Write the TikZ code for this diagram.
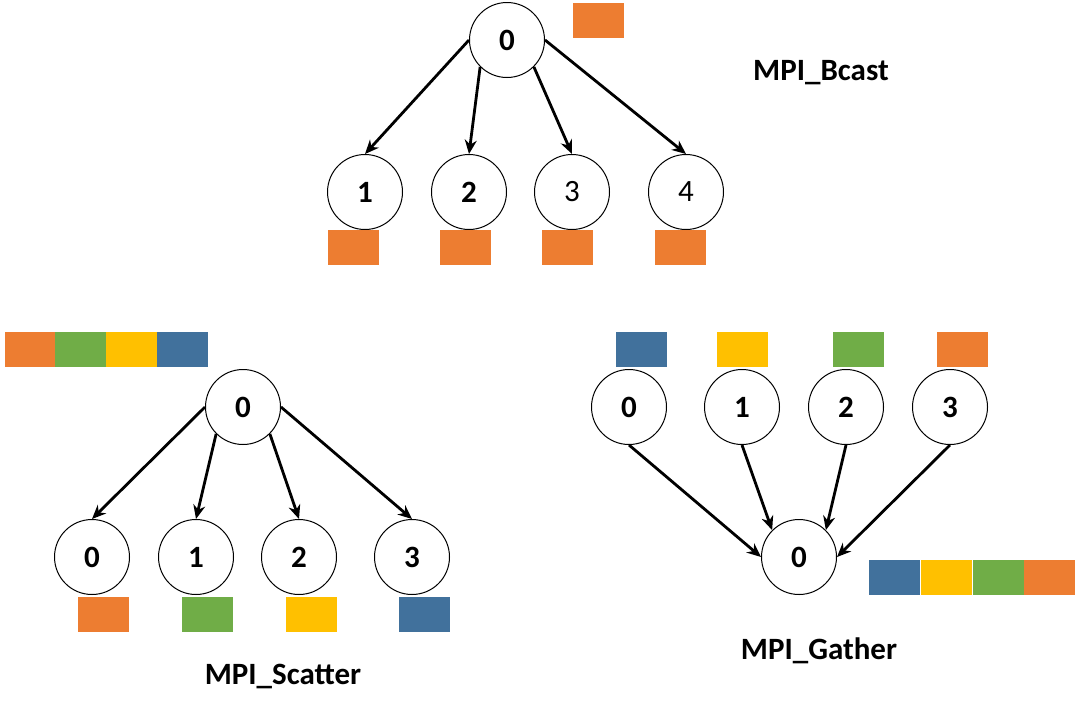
\documentclass[tikz,border=0pt]{standalone}
\usepackage{fontspec}
\setmainfont{Carlito}
\usetikzlibrary{arrows.meta}
\definecolor{cor}{HTML}{ED7D31}
\definecolor{cgr}{HTML}{70AD47}
\definecolor{cye}{HTML}{FFC000}
\definecolor{cbl}{HTML}{41719C}
\tikzset{
  proc/.style={circle, draw=black, line width=1pt, minimum size=75pt, inner sep=0pt, font=\fontsize{31}{36}\selectfont\bfseries},
  procn/.style={proc, font=\fontsize{31}{36}\selectfont},
  blk/.style={rectangle, inner sep=0pt, minimum width=51pt, minimum height=35pt, draw=none},
  arr/.style={-{Stealth[length=14pt,width=12pt]}, line width=2.8pt, black},
  title/.style={font=\fontsize{31}{36}\selectfont\bfseries, inner sep=0pt}
}
\begin{document}
\begin{tikzpicture}[x=1pt,y=-1pt]
\useasboundingbox (0,0) rectangle (1081,710);
% ---------- MPI_Bcast ----------
\node[proc] (b0) at (507,40) {0};
\node[blk, fill=cor] (bd0) at (598.5,20.5) {};
\node[proc] (b1) at (365,192) {1};
\node[proc] (b2) at (469,192) {2};
\node[procn] (b3) at (572,192) {3};
\node[procn] (b4) at (686,192) {4};
\node[blk, fill=cor] (bd1) at (353,247.5) {};
\node[blk, fill=cor] (bd2) at (465,247.5) {};
\node[blk, fill=cor] (bd3) at (567.5,247.5) {};
\node[blk, fill=cor] (bd4) at (680.5,247.5) {};
\draw[arr] (b0.west) -- (b1.north);
\draw[arr] (b0.south west) -- (b2.north);
\draw[arr] (b0.south east) -- (b3.north);
\draw[arr] (b0.east) -- (b4.north);
\node[title] (tb) at (821,73) {MPI\_Bcast};
% ---------- MPI_Scatter ----------
\node[blk, fill=cor] (sa1) at (30,349.5) {};
\node[blk, fill=cgr] (sa2) at (80.5,349.5) {};
\node[blk, fill=cye] (sa3) at (131.5,349.5) {};
\node[blk, fill=cbl] (sa4) at (182.5,349.5) {};
\node[proc] (s0) at (243,407) {0};
\node[proc] (c0) at (92,557) {0};
\node[proc] (c1) at (196,557) {1};
\node[proc] (c2) at (299,557) {2};
\node[proc] (c3) at (412,557) {3};
\node[blk, fill=cor] (sd0) at (103.5,614.5) {};
\node[blk, fill=cgr] (sd1) at (207.5,614.5) {};
\node[blk, fill=cye] (sd2) at (311.5,614.5) {};
\node[blk, fill=cbl] (sd3) at (424.5,614.5) {};
\draw[arr] (s0.west) -- (c0.north);
\draw[arr] (s0.south west) -- (c1.north);
\draw[arr] (s0.south east) -- (c2.north);
\draw[arr] (s0.east) -- (c3.north);
\node[title] (ts) at (283,676) {MPI\_Scatter};
% ---------- MPI_Gather ----------
\node[blk, fill=cbl] (gd0) at (641.5,349.5) {};
\node[blk, fill=cye] (gd1) at (742.5,349.5) {};
\node[blk, fill=cgr] (gd2) at (858.5,349.5) {};
\node[blk, fill=cor] (gd3) at (962,349.5) {};
\node[proc] (g0) at (629,407) {0};
\node[proc] (g1) at (742,407) {1};
\node[proc] (g2) at (846,407) {2};
\node[proc] (g3) at (950,407) {3};
\node[proc] (r0) at (799,557) {0};
\node[blk, fill=cbl] (ga1) at (894.5,577) {};
\node[blk, fill=cye] (ga2) at (946,577) {};
\node[blk, fill=cgr] (ga3) at (998,577) {};
\node[blk, fill=cor] (ga4) at (1049.5,577) {};
\draw[arr] (g0.south) -- (r0.west);
\draw[arr] (g1.south) -- (r0.north west);
\draw[arr] (g2.south) -- (r0.north east);
\draw[arr] (g3.south) -- (r0.east);
\node[title] (tg) at (819,651) {MPI\_Gather};
\end{tikzpicture}
\end{document}
